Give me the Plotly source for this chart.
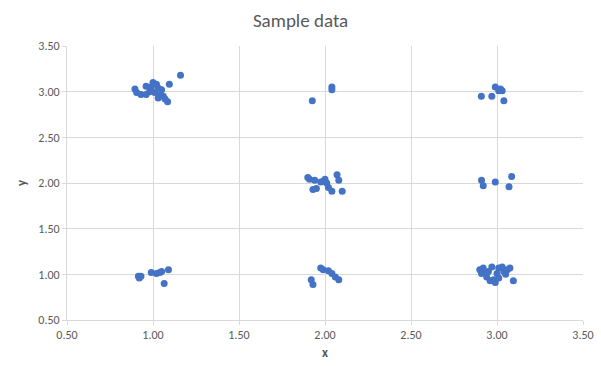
import plotly.graph_objects as go

x_vals = [
    0.895, 0.905, 0.93, 0.96, 1.00, 0.98, 1.01, 1.03, 1.04, 1.06, 1.085, 1.095, 1.16, 1.02, 0.96, 1.05, 1.07, 1.03, 0.99,
    1.926, 2.04, 2.04,
    2.909, 2.97, 2.99, 3.01, 3.03, 3.04, 3.02,
    1.90, 1.91, 1.94, 1.93, 1.95, 1.99, 2.00, 2.01, 2.02, 2.04, 2.07, 2.08, 2.10, 1.975,
    2.91, 2.92, 2.99, 3.085, 3.07,
    0.915, 0.92, 0.93, 0.99, 1.02, 1.04, 1.05, 1.09, 1.065,
    1.92, 1.93, 1.975, 1.99, 2.02, 2.04, 2.06, 2.08,
    2.90, 2.91, 2.92, 2.94, 2.95, 2.97, 2.98, 2.99, 3.00, 3.01, 3.01, 3.03, 3.04, 3.06, 3.075, 3.095, 2.96, 2.93, 3.05,
]
y_vals = [
    3.03, 2.99, 2.97, 3.06, 3.10, 3.00, 2.99, 3.04, 2.96, 2.95, 2.89, 3.08, 3.18, 3.08, 2.97, 3.02, 2.92, 2.93, 3.05,
    2.90, 3.05, 3.02,
    2.95, 2.95, 3.05, 3.01, 3.01, 2.90, 3.03,
    2.06, 2.04, 2.03, 1.93, 1.94, 2.02, 2.04, 2.00, 1.95, 1.91, 2.09, 2.03, 1.91, 2.01,
    2.03, 1.97, 2.01, 2.07, 1.96,
    0.98, 0.96, 0.98, 1.02, 1.01, 1.02, 1.03, 1.05, 0.90,
    0.94, 0.89, 1.07, 1.05, 1.04, 1.01, 0.97, 0.94,
    1.05, 1.01, 1.07, 0.97, 1.03, 1.08, 0.94, 0.91, 1.01, 1.07, 0.96, 1.08, 1.03, 1.05, 1.07, 0.93, 0.93, 1.02, 1.00,
]

tick_vals = [0.5, 1.0, 1.5, 2.0, 2.5, 3.0, 3.5]
tick_text = ["0.50", "1.00", "1.50", "2.00", "2.50", "3.00", "3.50"]

font_family = "Calibri, Carlito, 'Liberation Sans', Arial, sans-serif"
gray = "#595959"

fig = go.Figure(go.Scatter(
    x=x_vals, y=y_vals, mode="markers",
    marker=dict(size=7, color="#4472C4"),
    cliponaxis=False,
))

axis_common = dict(
    tickvals=tick_vals, ticktext=tick_text,
    showgrid=True, gridcolor="#D9D9D9", gridwidth=1,
    zeroline=False, automargin=False,
    showline=True, linecolor="#D9D9D9", linewidth=1,
    ticks="outside", ticklen=4, tickcolor="#D9D9D9",
    tickfont=dict(size=12, color=gray, family=font_family),
)

fig.update_layout(
    width=601, height=366,
    margin=dict(l=67, r=18, t=46, b=46, autoexpand=False),
    paper_bgcolor="white", plot_bgcolor="white",
    title=dict(text="Sample data", x=0.5, xanchor="center", y=0.945, yanchor="middle",
               font=dict(size=19, color=gray, family=font_family)),
    xaxis=dict(range=[0.5, 3.5], title=dict(text="<b>x</b>", standoff=6,
               font=dict(size=13, color=gray, family=font_family)), **axis_common),
    yaxis=dict(range=[0.5, 3.5], title=dict(text="<b>y</b>", standoff=8,
               font=dict(size=13, color=gray, family=font_family)), **axis_common),
    showlegend=False,
)

fig.write_html(
    "out.html",
    config={"displayModeBar": False},
    post_script="document.body.style.margin='0';document.body.style.overflow='hidden';",
)
